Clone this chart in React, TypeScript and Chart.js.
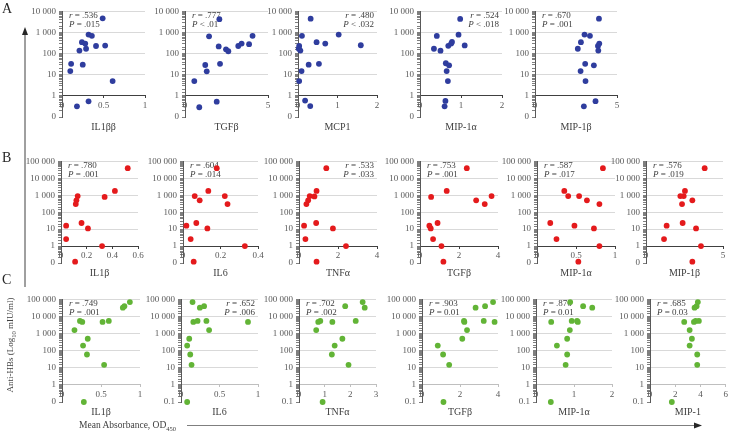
import React, { useEffect, useRef } from 'react';
import { Chart, registerables } from 'chart.js';

Chart.register(...registerables);

const SERIF = "'Liberation Serif', 'Times New Roman', serif";

// ---------------- DATA ----------------
// Row A (blue)
const a1X = [0.49, 0.32, 0.36, 0.24, 0.28, 0.41, 0.52, 0.21, 0.29, 0.11, 0.25, 0.10, 0.61, 0.32, 0.18];
const a1Y = [4700, 800, 700, 350, 300, 230, 240, 140, 170, 33, 30, 15, 5, 0.55, 0.32];
const a2X = [2.07, 1.45, 2.03, 2.47, 2.61, 3.21, 3.41, 3.86, 4.07, 1.22, 1.31, 2.11, 0.56, 0.86, 1.91];
const a2Y = [4300, 660, 220, 160, 130, 230, 300, 280, 700, 29, 14.5, 33, 5, 0.29, 0.53];
const a3X = [0.32, 0.10, 1.03, 0.47, 0.69, 1.59, 0.03, 0.02, 0.06, 0.27, 0.53, 0.09, 0.03, 0.18, 0.31];
const a3Y = [4500, 700, 800, 350, 300, 250, 230, 170, 140, 30, 33, 15, 5, 0.6, 0.33];
const a4X = [0.98, 0.41, 0.94, 0.34, 0.50, 0.69, 0.78, 0.76, 1.09, 0.63, 0.71, 0.65, 0.68, 0.62, 0.60];
const a4Y = [4400, 690, 790, 170, 138, 235, 360, 300, 245, 35, 28, 15, 5, 0.58, 0.32];
const a5X = [3.9, 3.02, 3.35, 2.8, 3.84, 3.92, 3.86, 2.61, 3.06, 3.59, 2.78, 3.08, 3.69, 2.98];
const a5Y = [4500, 800, 700, 350, 230, 300, 140, 170, 33, 28, 15, 5, 0.56, 0.32];

// Row B (red)
const b1X = [0.52, 0.42, 0.34, 0.13, 0.12, 0.115, 0.16, 0.04, 0.21, 0.04, 0.32, 0.11];
const b1Y = [40000, 1800, 800, 900, 500, 300, 23, 16, 11, 2.6, 1, 0.12];
const b2X = [0.18, 0.135, 0.0625, 0.089, 0.223, 0.2375, 0.018, 0.071, 0.13, 0.041, 0.33, 0.057];
const b2Y = [40000, 1800, 900, 500, 900, 300, 16, 23, 11, 2.6, 1, 0.12];
const b3X = [1.40, 0.90, 0.55, 0.79, 0.47, 0.38, 0.26, 0.88, 1.74, 0.33, 2.41, 0.90];
const b3Y = [40000, 1800, 900, 850, 500, 300, 16, 23, 11, 2.6, 1, 0.12];
const b4X = [2.4, 1.37, 0.57, 2.88, 3.32, 3.67, 0.9, 0.48, 0.55, 0.67, 1.1, 1.2];
const b4Y = [40000, 1800, 800, 500, 300, 900, 23, 16, 11, 2.6, 1, 0.12];
const b5X = [0.845, 0.35, 0.40, 0.54, 0.64, 0.80, 0.17, 0.48, 0.73, 0.25, 0.80, 0.53];
const b5Y = [40000, 1800, 900, 900, 500, 300, 23, 16, 11, 2.6, 1, 0.12];
const b6X = [3.81, 2.53, 2.23, 2.45, 2.34, 3.01, 2.38, 1.34, 3.25, 1.17, 3.57, 3.01];
const b6Y = [40000, 1800, 900, 900, 300, 500, 23, 16, 11, 2.6, 1, 0.12];

// Row C (green)
const c1X = [0.87, 0.80, 0.78, 0.23, 0.26, 0.52, 0.60, 0.16, 0.33, 0.27, 0.32, 0.54, 0.28];
const c1Y = [70000, 40000, 33000, 5500, 4800, 4800, 5500, 1600, 500, 200, 60, 15, 0.1];
const c2X = [0.15, 0.245, 0.30, 0.16, 0.215, 0.33, 0.365, 0.107, 0.08, 0.12, 0.137, 0.08, 0.87];
const c2Y = [70000, 33000, 40000, 4800, 5500, 5500, 1600, 500, 200, 60, 15, 0.1, 4800];
const c3X = [2.48, 2.56, 1.80, 0.75, 0.83, 1.30, 2.21, 0.67, 1.69, 1.39, 1.28, 1.93, 0.92];
const c3Y = [70000, 33000, 40000, 4800, 5500, 4800, 5500, 1600, 500, 200, 60, 15, 0.1];
const c4X = [2.82, 3.32, 2.21, 2.23, 2.37, 2.12, 0.83, 1.11, 1.43, 1.13, 3.25, 3.74, 3.82];
const c4Y = [33000, 40000, 5500, 4800, 1600, 500, 200, 60, 15, 0.1, 5500, 70000, 4800];
const c5X = [0.90, 1.24, 1.48, 0.40, 0.94, 1.08, 1.10, 0.89, 0.82, 0.55, 0.82, 0.78, 0.39];
const c5Y = [70000, 40000, 33000, 4800, 5500, 5500, 4800, 1600, 500, 200, 60, 15, 0.1];
const c6X = [3.79, 3.69, 3.53, 2.71, 3.48, 3.61, 3.87, 3.14, 3.32, 3.14, 3.74, 3.74, 1.73];
const c6Y = [70000, 40000, 33000, 4800, 4800, 5500, 5500, 1600, 500, 200, 60, 15, 0.1];

// Names, statistics and x tick ranges
const rowANames = ['IL1ββ', 'TGFβ', 'MCP1', 'MIP-1α', 'MIP-1β'];
const rowBNames = ['IL1β', 'IL6', 'TNFα', 'TGFβ', 'MIP-1α', 'MIP-1β'];
const rowCNames = ['IL1β', 'IL6', 'TNFα', 'TGFβ', 'MIP-1α', 'MIP-1'];
const rowAR = ['.536', '.777', '.480', '.524', '.670'];
const rowAP = ['= .015', '< .01', '< .032', '< .018', '= .001'];
const rowBR = ['.780', '.604', '.533', '.753', '.587', '.576'];
const rowBP = ['= .001', '= .014', '= .033', '= .001', '= .017', '= .019'];
const rowCR = ['.749', '.652', '.702', '.903', '.876', '.685'];
const rowCP = ['= .001', '= .006', '= .002', '= 0.01', '= 0.01', '= 0.03'];
const rowAXMax = [1, 5, 2, 2, 5];
const rowAXStep = [0.5, 5, 1, 1, 5];
const rowBXMax = [0.6, 0.4, 4, 4, 1, 5];
const rowBXStep = [0.2, 0.2, 2, 2, 0.5, 5];
const rowCXMax = [1, 1, 3, 4, 2, 6];
const rowCXStep = [0.5, 0.5, 1, 2, 1, 2];
const rowYMax = [10000, 100000, 100000];
const rowCZeroLabels = ['0', '0.1', '0.1', '0.1', '0.1', '0.1'];

// ---------------- LAYOUT (pixel geometry, styles) ----------------
const rowTops = [11, 161, 299];
const rowBottoms = [117, 263, 402];
const rowAAxes = [[62, 145], [185, 268], [298, 377], [420, 502], [535, 617]];
const rowBAxes = [[61, 138], [183, 258], [299, 377], [420, 498], [537, 615], [646, 723]];
const rowCAxes = [[62, 140], [181, 258], [299, 376], [422, 498], [536, 612], [650, 728]];
const rowAAlign = ['left', 'left', 'right', 'right', 'left'];
const rowBAlign = ['left', 'left', 'right', 'left', 'left', 'left'];
const rowCAlign = ['left', 'right', 'left', 'left', 'left', 'left'];
const rowColors = ['#2f3d9e', '#e41a1c', '#62b436'];
const rowXAxisColors = ['#404040', '#404040', '#bfbfbf'];

type PanelProps = {
  xs: number[]; ys: number[]; name: string; r: string; p: string;
  xMax: number; xStep: number; yMax: number; zeroLabel: string;
  left: number; right: number; top: number; bottom: number;
  align: string; color: string; xAxisColor: string;
};

const fmtThousands = (v: number) =>
  Math.round(v).toString().replace(/\B(?=(\d{3})+(?!\d))/g, ' ');
const isPow10 = (v: number) => {
  const l = Math.log10(v);
  return Math.abs(l - Math.round(l)) < 1e-6;
};

function Panel(props: PanelProps) {
  const ref = useRef<HTMLCanvasElement>(null);
  const LW = 48;
  const PT = 8;
  const PB = 3;
  const TITLE = 16;
  const PR = Math.max(2, Math.min(10, 730 - props.right));
  const W = LW + (props.right - props.left) + PR;
  const H = PT + (props.bottom - props.top) + TITLE + PB;

  useEffect(() => {
    const { xs, ys, name, r, p, align } = props;
    const statsPlugin = {
      id: 'stats',
      beforeDatasetsDraw(chart: any) {
        const { ctx, chartArea } = chart;
        ctx.save();
        ctx.fillStyle = '#404040';
        ctx.textBaseline = 'middle';
        const lines: [string, string, number][] = [
          ['r', ' = ' + r, chartArea.top + 4],
          ['P', ' ' + p, chartArea.top + 13.5],
        ];
        lines.forEach(([it, rest, y]) => {
          ctx.font = `italic 9px ${SERIF}`;
          const w1 = ctx.measureText(it).width;
          ctx.font = `9px ${SERIF}`;
          const w2 = ctx.measureText(rest).width;
          const x0 = align === 'right' ? chartArea.right - 3 - (w1 + w2) : chartArea.left + 7;
          ctx.font = `italic 9px ${SERIF}`;
          ctx.textAlign = 'left';
          ctx.fillText(it, x0, y);
          ctx.font = `9px ${SERIF}`;
          ctx.fillText(rest, x0 + w1, y);
        });
        ctx.restore();
      },
    };

    const chart = new Chart(ref.current as HTMLCanvasElement, {
      type: 'scatter',
      data: {
        datasets: [
          {
            data: xs.map((x, i) => ({ x, y: ys[i] })),
            backgroundColor: props.color,
            borderColor: props.color,
            pointRadius: 2.9,
            pointBorderWidth: 0,
            clip: false as any,
          },
        ],
      },
      options: {
        animation: false,
        responsive: false,
        events: [],
        layout: { padding: { left: 0, top: PT, right: PR, bottom: PB } },
        plugins: {
          legend: { display: false },
          tooltip: { enabled: false },
          title: {
            display: true,
            text: name,
            position: 'bottom',
            fullSize: false,
            align: 'center',
            color: '#404040',
            font: { family: SERIF, size: 10, weight: 'normal' },
            padding: { top: 4, bottom: 0 },
          },
        },
        scales: {
          x: {
            type: 'linear',
            min: 0,
            max: props.xMax,
            position: { y: 1 } as any,
            ticks: {
              stepSize: props.xStep,
              autoSkip: false,
              maxRotation: 0,
              padding: 2,
              color: '#595959',
              font: { family: SERIF, size: 9 },
              callback: (v: any) => String(Math.round(Number(v) * 100) / 100),
            },
            grid: { drawOnChartArea: false, drawTicks: true, tickLength: 2, tickColor: props.xAxisColor },
            border: { color: props.xAxisColor, width: 1 },
          },
          y: {
            type: 'logarithmic',
            min: 0.1,
            max: props.yMax,
            afterFit: (s: any) => {
              s.width = LW;
            },
            ticks: {
              autoSkip: false,
              padding: 3,
              color: '#595959',
              font: { family: SERIF, size: 9 },
              callback: (v: any) => {
                const n = Number(v);
                if (!isPow10(n)) return '';
                if (n < 1) return props.zeroLabel;
                return fmtThousands(n);
              },
            },
            grid: {
              color: (c: any) => {
                const v = c.tick ? c.tick.value : 0;
                return v >= 1 && isPow10(v) ? '#d9d9d9' : 'rgba(0,0,0,0)';
              },
              tickColor: '#7f7f7f',
              tickLength: 3,
            },
            border: { color: '#595959', width: 1 },
          },
        },
      } as any,
      plugins: [statsPlugin],
    });
    return () => chart.destroy();
  }, []);

  return (
    <canvas
      ref={ref}
      width={W}
      height={H}
      style={{ position: 'absolute', left: props.left - LW, top: props.top - PT, width: W, height: H }}
    />
  );
}

export default function App() {
  const rows = [
    { xs: [a1X, a2X, a3X, a4X, a5X], ys: [a1Y, a2Y, a3Y, a4Y, a5Y], names: rowANames, r: rowAR, p: rowAP, xMax: rowAXMax, xStep: rowAXStep, axes: rowAAxes, align: rowAAlign, zero: ['0', '0', '0', '0', '0'] },
    { xs: [b1X, b2X, b3X, b4X, b5X, b6X], ys: [b1Y, b2Y, b3Y, b4Y, b5Y, b6Y], names: rowBNames, r: rowBR, p: rowBP, xMax: rowBXMax, xStep: rowBXStep, axes: rowBAxes, align: rowBAlign, zero: ['0', '0', '0', '0', '0', '0'] },
    { xs: [c1X, c2X, c3X, c4X, c5X, c6X], ys: [c1Y, c2Y, c3Y, c4Y, c5Y, c6Y], names: rowCNames, r: rowCR, p: rowCP, xMax: rowCXMax, xStep: rowCXStep, axes: rowCAxes, align: rowCAlign, zero: rowCZeroLabels },
  ];

  const letterStyle: React.CSSProperties = {
    position: 'absolute', fontFamily: SERIF, fontSize: 14, lineHeight: '14px', color: '#262626',
  };

  return (
    <div style={{ position: 'absolute', left: 0, top: 0, width: 730, height: 434, overflow: 'hidden', background: '#fff' }}>
      {rows.map((row, ri) =>
        row.xs.map((xs, i) => (
          <Panel
            key={`${ri}-${i}`}
            xs={xs}
            ys={row.ys[i]}
            name={row.names[i]}
            r={row.r[i]}
            p={row.p[i]}
            xMax={row.xMax[i]}
            xStep={row.xStep[i]}
            yMax={rowYMax[ri]}
            zeroLabel={row.zero[i]}
            left={row.axes[i][0]}
            right={row.axes[i][1]}
            top={rowTops[ri]}
            bottom={rowBottoms[ri]}
            align={row.align[i]}
            color={rowColors[ri]}
            xAxisColor={rowXAxisColors[ri]}
          />
        ))
      )}
      <svg width={730} height={434} style={{ position: 'absolute', left: 0, top: 0, pointerEvents: 'none' }}>
        <line x1={25} y1={33} x2={25} y2={287} stroke="#404040" strokeWidth={1} />
        <polygon points="25,27 22,35 28,35" fill="#262626" />
        <line x1={187} y1={425.5} x2={696} y2={425.5} stroke="#7f7f7f" strokeWidth={1} />
        <polygon points="702,425.5 694,422.5 694,428.5" fill="#262626" />
      </svg>
      <div style={{ ...letterStyle, left: 2, top: 2 }}>A</div>
      <div style={{ ...letterStyle, left: 2, top: 151 }}>B</div>
      <div style={{ ...letterStyle, left: 2, top: 273 }}>C</div>
      <div
        style={{
          position: 'absolute', left: 12, top: 345, transform: 'translate(-50%, -50%) rotate(-90deg)',
          whiteSpace: 'nowrap', fontFamily: SERIF, fontSize: 9, color: '#404040', lineHeight: '10px',
        }}
      >
        Anti-HBs (Log<sub style={{ fontSize: 6.5 }}>10</sub> mIU/ml)
      </div>
      <div
        style={{
          position: 'absolute', left: 79, top: 419, whiteSpace: 'nowrap', fontFamily: SERIF,
          fontSize: 9.5, color: '#404040', lineHeight: '12px',
        }}
      >
        Mean Absorbance, OD<sub style={{ fontSize: 6.5 }}>450</sub>
      </div>
    </div>
  );
}
